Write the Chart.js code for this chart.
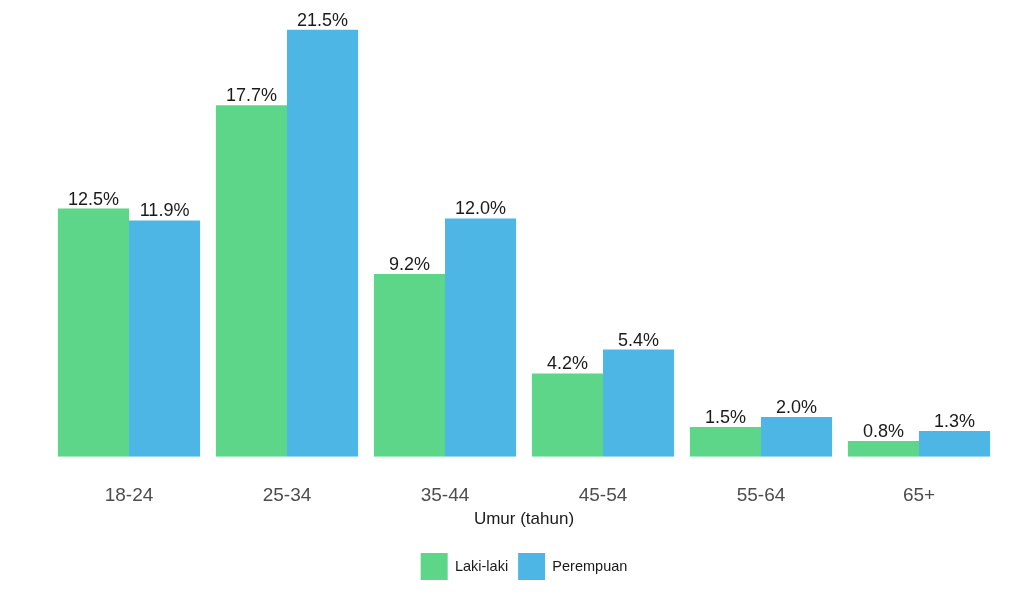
<!DOCTYPE html>
<html>
<head>
<meta charset="utf-8">
<script src="https://cdn.jsdelivr.net/npm/chart.js@4"></script>
<style>
  html, body { margin: 0; padding: 0; background: #ffffff; }
  #wrap { width: 1024px; height: 600px; }
</style>
</head>
<body>
<div id="wrap"><canvas id="grafico" width="1024" height="600"></canvas></div>
<script>
// dados do grafico
var kelompokUmur = ["18-24", "25-34", "35-44", "45-54", "55-64", "65+"];
var lakiLaki = [12.5, 17.7, 9.2, 4.2, 1.5, 0.8];
var perempuan = [11.9, 21.5, 12.0, 5.4, 2.0, 1.3];

var fonte = "'Liberation Sans', Arial, sans-serif";

// rotulos em cima das barras
var rotulos = {
  id: 'rotulos',
  afterDatasetsDraw: function(chart) {
    var ctx = chart.ctx;
    ctx.save();
    ctx.font = '18px ' + fonte;
    ctx.fillStyle = '#1a1a1a';
    ctx.textAlign = 'center';
    ctx.textBaseline = 'alphabetic';
    chart.data.datasets.forEach(function(ds, i) {
      var meta = chart.getDatasetMeta(i);
      meta.data.forEach(function(bar, j) {
        ctx.fillText(ds.data[j].toFixed(1) + '%', bar.x, bar.y - 4);
      });
    });
    ctx.restore();
  }
};

var ctx = document.getElementById('grafico').getContext('2d');
var myChart = new Chart(ctx, {
  type: 'bar',
  data: {
    labels: kelompokUmur,
    datasets: [{
      label: 'Laki-laki',
      data: lakiLaki,
      backgroundColor: '#5DD68A',
      borderWidth: 0
    },
    {
      label: 'Perempuan',
      data: perempuan,
      backgroundColor: '#4DB6E4',
      borderWidth: 0
    }]
  },
  options: {
    responsive: false,
    animation: false,
    layout: {
      padding: { left: 50, right: 26, top: 8, bottom: 10 }
    },
    datasets: {
      bar: { categoryPercentage: 0.9, barPercentage: 1.0 }
    },
    plugins: {
      tooltip: { enabled: false },
      legend: {
        position: 'bottom',
        labels: {
          boxWidth: 27,
          boxHeight: 27,
          padding: 10,
          color: '#1a1a1a',
          font: { size: 14.5, family: fonte }
        }
      }
    },
    scales: {
      x: {
        grid: { display: false },
        border: { display: false },
        ticks: {
          color: '#4d4d4d',
          padding: 20,
          font: { size: 19, family: fonte }
        },
        title: {
          display: true,
          text: 'Umur (tahun)',
          color: '#1a1a1a',
          padding: { top: -18, bottom: 13 },
          font: { size: 17, family: fonte }
        }
      },
      y: {
        display: false,
        min: 0,
        max: 22.6
      }
    }
  },
  plugins: [rotulos]
});
</script>
</body>
</html>
